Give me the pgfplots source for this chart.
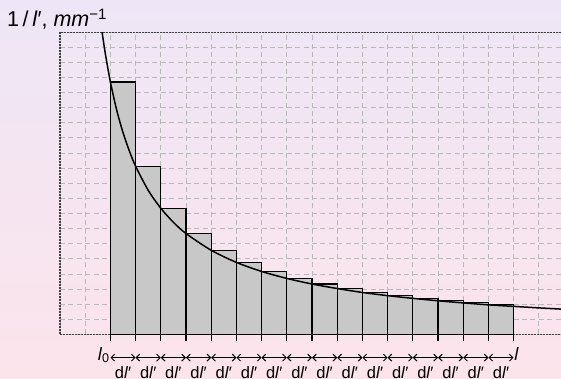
\documentclass[border=0pt]{standalone}
\usepackage{fontspec}
\setmainfont{Liberation Sans}
\usepackage{pgfplots}
\pgfplotsset{compat=1.18}
\usetikzlibrary{arrows.meta}
\definecolor{bgtop}{RGB}{238,230,246}
\definecolor{bgbot}{RGB}{252,228,235}
\definecolor{barfill}{RGB}{200,200,200}
\definecolor{gridc}{RGB}{185,185,185}
\begin{document}
\begin{tikzpicture}[x=1pt,y=1pt]
\shade[top color=bgtop,bottom color=bgbot] (0,0) rectangle (561,379);
\useasboundingbox (0,0) rectangle (561,379);
\begin{axis}[
  at={(60pt,44.5pt)}, anchor=south west,
  scale only axis, width=504pt, height=302.4pt,
  xmin=0,xmax=20,ymin=0,ymax=20,
  xtick={0,...,20}, ytick={0,...,20},
  xticklabels={}, yticklabels={},
  grid=major,
  major grid style={gridc, dash pattern=on 5pt off 3.4pt, line width=0.9pt},
  major tick length=0pt,
  extra x ticks={2,...,18},
  extra x tick labels={},
  extra x tick style={grid=none, major tick length=6.5pt, tick align=outside, tick pos=bottom, tick style={black, line width=1.2pt}},
  axis line style={black!75, dash pattern=on 2pt off 1pt, line width=1.1pt},
  clip=false,
]
\addplot[ybar interval, fill=barfill, draw=black, line width=1.2pt] coordinates {
(2,16.7) (3,11.13) (4,8.35) (5,6.68) (6,5.57) (7,4.77) (8,4.17) (9,3.71)
(10,3.34) (11,3.04) (12,2.78) (13,2.57) (14,2.39) (15,2.23) (16,2.09) (17,1.97) (18,1.97)};
\addplot[smooth, black, line width=1.5pt] coordinates {
(1.67,20) (1.8,18.56) (2,16.7) (2.25,14.84) (2.5,13.36) (2.75,12.15) (3,11.13)
(3.5,9.54) (4,8.35) (4.5,7.42) (5,6.68) (6,5.57) (7,4.77) (8,4.17) (9,3.71)
(10,3.34) (11,3.04) (12,2.78) (13,2.57) (14,2.39) (15,2.23) (16,2.09) (17,1.96)
(18,1.86) (19,1.76) (20,1.67)};
\pgfplotsinvokeforeach{2,...,17}{
  \draw[{Straight Barb[length=3.5pt,width=7pt]}-{Straight Barb[length=3.5pt,width=7pt]}, line width=1pt]
    (axis cs:#1,-1.53) -- ++(25.2pt,0);
  \node[anchor=base, inner sep=0pt, font=\fontsize{16.5}{18}\selectfont] at (axis cs:#1.5,-2.88) {d\textit{l}′};
}
\node[anchor=base east, inner sep=0pt, font=\fontsize{18}{20}\selectfont] at (axis cs:1.98,-1.69) {\textit{l}\textsubscript{0}};
\node[anchor=base west, inner sep=0.5pt, font=\fontsize{18}{20}\selectfont] at (axis cs:18,-1.69) {\textit{l}};
\end{axis}
\node[anchor=base west, inner sep=0pt, font=\fontsize{21.5}{24}\selectfont] at (7,352.3) {1\,/\,\textit{l}′, \textit{mm}\textsuperscript{−1}};
\end{tikzpicture}
\end{document}
